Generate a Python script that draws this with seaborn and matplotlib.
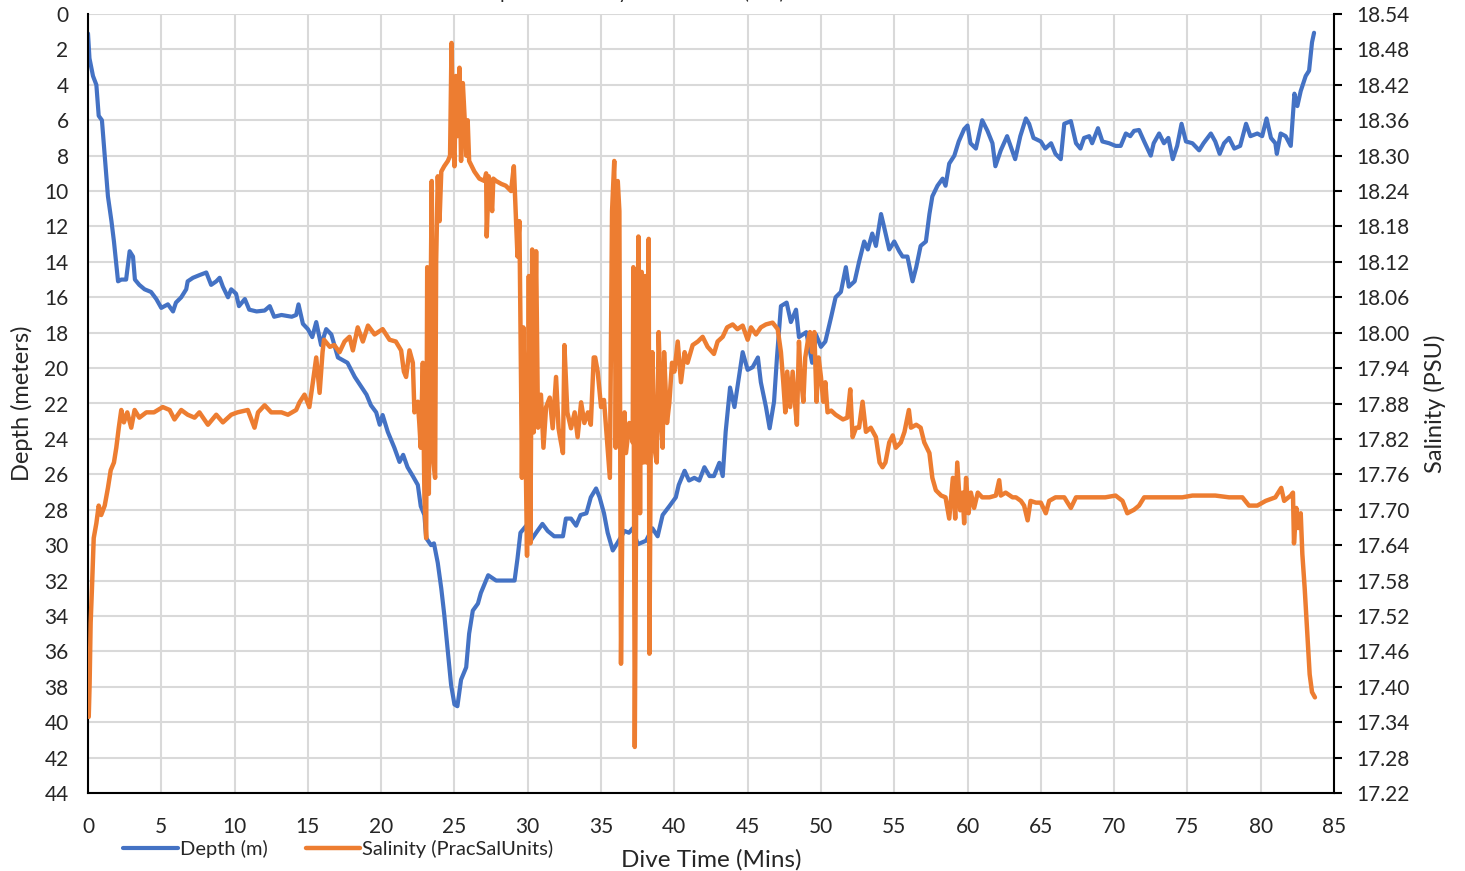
import matplotlib
matplotlib.use("Agg")
import matplotlib.pyplot as plt
import pandas as pd
import seaborn as sns

# depth trace (minutes, metres)
depth_time = [0.0, 0.1, 0.34, 0.57, 0.73, 0.95, 1.14, 1.36, 1.6, 1.77, 2.05, 2.27, 2.6, 2.84, 3.07, 3.2,
              3.5, 3.86, 4.3, 4.66, 5.0, 5.45, 5.8, 6.0, 6.36, 6.7, 6.8, 7.16, 7.6, 8.07, 8.4, 8.75, 8.98,
              9.2, 9.55, 9.77, 10.1, 10.3, 10.7, 11.0, 11.5, 12.05, 12.4, 12.7, 13.2, 13.9, 14.2, 14.36,
              14.66, 15.0, 15.3, 15.57, 15.9, 16.25, 16.6, 17.05, 17.7, 18.2, 18.6, 19.0, 19.3, 19.66,
              19.9, 20.1, 20.45, 20.9, 21.25, 21.5, 21.8, 22.16, 22.5, 22.7, 22.95, 23.07, 23.4, 23.6,
              23.86, 24.1, 24.3, 24.5, 24.77, 25.0, 25.2, 25.45, 25.8, 26.0, 26.25, 26.6, 26.8, 27.05,
              27.3, 27.84, 28.5, 29.1, 29.3, 29.5, 29.9, 30.2, 30.57, 31.0, 31.36, 31.8, 32.4, 32.6,
              32.95, 33.3, 33.6, 34.0, 34.3, 34.66, 34.9, 35.2, 35.45, 35.8, 36.1, 36.6, 36.9, 37.16,
              37.5, 38.07, 38.5, 38.86, 39.2, 39.66, 40.1, 40.3, 40.7, 41.0, 41.36, 41.7, 42.05, 42.4,
              42.7, 43.07, 43.3, 43.5, 43.8, 44.1, 44.3, 44.66, 45.0, 45.34, 45.7, 45.9, 46.25, 46.5,
              46.8, 47.0, 47.27, 47.66, 47.95, 48.3, 48.5, 49.0, 49.4, 49.66, 50.0, 50.3, 50.7, 51.0,
              51.36, 51.7, 51.9, 52.3, 52.6, 52.95, 53.2, 53.5, 53.75, 54.1, 54.3, 54.66, 55.0, 55.34,
              55.57, 55.9, 56.25, 56.5, 56.8, 57.16, 57.4, 57.6, 57.95, 58.3, 58.5, 58.75, 59.1, 59.4,
              59.77, 60.0, 60.2, 60.57, 61.0, 61.36, 61.7, 61.9, 62.27, 62.7, 63.25, 63.6, 63.98, 64.2,
              64.5, 65.0, 65.3, 65.7, 66.0, 66.36, 66.6, 67.05, 67.4, 67.7, 67.95, 68.3, 68.5, 68.9,
              69.2, 69.66, 70.1, 70.45, 70.8, 71.1, 71.36, 71.7, 72.05, 72.5, 72.7, 73.07, 73.4, 73.7,
              74.0, 74.3, 74.6, 74.9, 75.34, 75.8, 76.1, 76.6, 76.9, 77.2, 77.5, 77.84, 78.2, 78.6,
              79.0, 79.3, 79.77, 80.1, 80.4, 80.7, 81.0, 81.1, 81.36, 81.7, 82.05, 82.3, 82.5, 82.73,
              83.07, 83.3, 83.5, 83.64]
depth_m = [1.1, 2.5, 3.5, 4.0, 5.75, 6.0, 8.0, 10.3, 11.7, 12.85, 15.1, 15.0, 15.0, 13.4, 13.7, 15.0,
           15.3, 15.55, 15.7, 16.1, 16.6, 16.4, 16.8, 16.3, 16.0, 15.55, 15.1, 14.9, 14.75, 14.6, 15.3,
           15.1, 14.9, 15.4, 16.0, 15.55, 15.8, 16.5, 16.1, 16.7, 16.8, 16.75, 16.5, 17.1, 17.0, 17.1,
           17.0, 16.4, 17.5, 17.8, 18.25, 17.4, 18.7, 17.8, 18.1, 19.4, 19.7, 20.5, 21.0, 21.5, 22.1,
           22.5, 23.2, 22.65, 23.6, 24.5, 25.3, 24.9, 25.6, 26.1, 26.6, 27.8, 28.3, 29.6, 30.0, 29.9,
           31.0, 32.45, 33.9, 35.6, 37.9, 39.0, 39.1, 37.6, 36.9, 35.0, 33.7, 33.3, 32.7, 32.2, 31.7,
           32.0, 32.0, 32.0, 30.75, 29.3, 28.9, 29.75, 29.3, 28.8, 29.2, 29.5, 29.5, 28.5, 28.5, 28.9,
           28.3, 28.2, 27.3, 26.8, 27.3, 28.2, 29.3, 30.3, 29.9, 29.2, 29.3, 29.05, 29.95, 29.75, 29.05,
           29.5, 28.3, 27.8, 27.3, 26.6, 25.8, 26.35, 26.2, 26.35, 25.6, 26.1, 26.1, 25.35, 26.1, 23.6,
           21.1, 22.2, 21.1, 19.1, 20.1, 19.95, 19.4, 20.8, 22.2, 23.4, 21.9, 19.4, 16.5, 16.3, 17.4,
           16.7, 18.25, 17.97, 19.7, 18.1, 18.8, 18.5, 17.1, 16.0, 15.7, 14.3, 15.4, 15.1, 14.0, 12.85,
           13.3, 12.4, 13.1, 11.3, 12.0, 13.3, 12.85, 13.4, 13.7, 13.7, 15.1, 14.3, 13.1, 12.85, 11.3,
           10.3, 9.7, 9.3, 9.7, 8.45, 8.0, 7.2, 6.5, 6.3, 7.3, 7.6, 6.0, 6.6, 7.3, 8.6, 7.7, 6.9, 8.2,
           6.9, 5.9, 6.2, 7.0, 7.2, 7.6, 7.3, 7.9, 8.2, 6.2, 6.05, 7.3, 7.6, 7.0, 6.9, 7.3, 6.45, 7.2,
           7.3, 7.45, 7.45, 6.75, 6.9, 6.6, 6.55, 7.2, 8.0, 7.3, 6.75, 7.3, 7.0, 8.2, 7.45, 6.2, 7.2,
           7.3, 7.7, 7.3, 6.75, 7.2, 7.9, 7.3, 7.0, 7.6, 7.45, 6.2, 6.9, 6.75, 6.9, 5.9, 7.0, 7.3, 7.9,
           6.75, 6.9, 7.45, 4.5, 5.2, 4.35, 3.5, 3.2, 1.6, 1.06]

# salinity trace (minutes, PSU)
sal_time = [0.05, 0.11, 0.18, 0.27, 0.39, 0.57, 0.73, 0.9, 1.14, 1.36, 1.55, 1.77, 1.93, 2.1, 2.27, 2.45,
            2.68, 2.95, 3.18, 3.5, 3.98, 4.5, 5.1, 5.57, 5.9, 6.36, 6.8, 7.27, 7.6, 8.18, 8.75, 9.2, 9.77,
            10.2, 10.9, 11.36, 11.6, 12.05, 12.5, 13.2, 13.64, 14.2, 14.43, 14.77, 15.1, 15.34, 15.57,
            15.8, 16.0, 16.1, 16.5, 16.8, 17.16, 17.5, 17.84, 18.07, 18.4, 18.75, 19.1, 19.55, 20.1,
            20.57, 21.0, 21.36, 21.55, 21.7, 21.93, 22.16, 22.27, 22.5, 22.6, 22.7, 22.84, 22.95, 23.07,
            23.14, 23.25, 23.34, 23.45, 23.57, 23.68, 23.75, 23.86, 23.98, 24.1, 24.3, 24.55, 24.7,
            24.8, 24.9, 25.0, 25.1, 25.2, 25.34, 25.45, 25.57, 25.7, 25.8, 25.9, 26.0, 26.36, 26.7,
            27.05, 27.16, 27.2, 27.34, 27.57, 27.65, 27.84, 28.2, 28.5, 28.86, 29.05, 29.16, 29.3,
            29.43, 29.55, 29.6, 29.7, 29.84, 29.95, 30.07, 30.18, 30.3, 30.4, 30.57, 30.7, 30.9, 31.07,
            31.25, 31.5, 31.7, 31.93, 32.1, 32.2, 32.4, 32.5, 32.7, 32.95, 33.2, 33.4, 33.64, 33.86,
            34.1, 34.3, 34.5, 34.6, 34.77, 35.0, 35.2, 35.45, 35.6, 35.75, 35.9, 36.0, 36.14, 36.25,
            36.36, 36.5, 36.6, 36.7, 36.93, 37.16, 37.2, 37.3, 37.43, 37.55, 37.66, 37.77, 37.9, 38.0,
            38.1, 38.25, 38.3, 38.4, 38.5, 38.64, 38.8, 38.93, 39.1, 39.2, 39.3, 39.5, 39.66, 39.84,
            40.0, 40.23, 40.45, 40.7, 40.9, 41.25, 41.6, 41.93, 42.27, 42.7, 42.95, 43.3, 43.6, 43.98,
            44.3, 44.66, 45.0, 45.23, 45.57, 45.9, 46.25, 46.7, 47.05, 47.27, 47.43, 47.57, 47.7, 47.9,
            48.07, 48.25, 48.36, 48.5, 48.6, 48.8, 48.93, 49.1, 49.25, 49.4, 49.55, 49.7, 49.84, 50.0,
            50.16, 50.3, 50.45, 50.7, 51.0, 51.5, 51.8, 52.0, 52.16, 52.4, 52.6, 52.84, 53.07, 53.4,
            53.75, 54.0, 54.2, 54.4, 54.66, 54.9, 55.1, 55.45, 55.7, 56.0, 56.14, 56.5, 56.8, 57.05,
            57.4, 57.6, 57.84, 58.2, 58.5, 58.75, 59.0, 59.16, 59.3, 59.5, 59.66, 59.77, 59.9, 60.07,
            60.23, 60.45, 60.7, 61.0, 61.5, 61.93, 62.16, 62.27, 62.6, 63.07, 63.3, 63.64, 63.86, 64.1,
            64.3, 64.66, 65.0, 65.34, 65.57, 66.0, 66.6, 67.05, 67.4, 68.07, 68.75, 69.4, 70.1, 70.57,
            70.9, 71.36, 71.7, 72.05, 72.6, 73.3, 73.98, 74.66, 75.34, 76.0, 76.9, 77.84, 78.75, 79.2,
            79.77, 80.34, 81.0, 81.4, 81.6, 82.05, 82.2, 82.27, 82.43, 82.57, 82.73, 82.84, 83.0, 83.2,
            83.34, 83.5, 83.7]
sal_psu = [17.349, 17.405, 17.508, 17.567, 17.652, 17.677, 17.707, 17.691, 17.707, 17.737, 17.767,
           17.780, 17.805, 17.839, 17.869, 17.848, 17.865, 17.839, 17.869, 17.856, 17.865, 17.865,
           17.874, 17.869, 17.853, 17.869, 17.861, 17.856, 17.865, 17.844, 17.861, 17.848, 17.861,
           17.865, 17.869, 17.839, 17.865, 17.877, 17.865, 17.865, 17.861, 17.869, 17.882, 17.895,
           17.874, 17.916, 17.958, 17.898, 17.967, 17.988, 17.976, 17.979, 17.967, 17.985, 17.993,
           17.970, 18.009, 17.985, 18.012, 17.997, 18.006, 17.988, 17.985, 17.970, 17.934, 17.925,
           17.970, 17.949, 17.865, 17.883, 17.847, 17.805, 17.949, 17.721, 17.652, 18.111, 17.727,
           17.967, 18.257, 17.780, 17.754, 18.120, 18.265, 18.189, 18.273, 18.282, 18.291, 18.300,
           18.491, 18.333, 18.282, 18.435, 18.333, 18.449, 18.291, 18.423, 18.360, 18.300, 18.360,
           18.291, 18.273, 18.261, 18.257, 18.270, 18.163, 18.265, 18.206, 18.261, 18.257, 18.252,
           18.249, 18.240, 18.282, 18.214, 18.129, 18.189, 17.898, 17.754, 18.009, 17.823, 17.622,
           18.096, 17.643, 18.141, 17.831, 18.138, 17.839, 17.895, 17.805, 17.874, 17.890, 17.838,
           17.925, 17.838, 17.823, 17.796, 17.979, 17.865, 17.838, 17.865, 17.823, 17.882, 17.847,
           17.865, 17.844, 17.958, 17.958, 17.934, 17.874, 17.886, 17.805, 17.754, 18.206, 18.291,
           17.805, 18.257, 18.206, 17.439, 17.814, 17.865, 17.796, 17.847, 17.814, 18.111, 17.298,
           17.865, 18.163, 17.694, 18.103, 17.780, 18.096, 17.780, 18.159, 17.456, 17.847, 17.967,
           17.805, 17.780, 18.001, 17.847, 17.805, 17.967, 17.847, 17.882, 17.949, 17.934, 17.985,
           17.916, 17.967, 17.949, 17.979, 17.985, 17.993, 17.976, 17.964, 17.985, 17.993, 18.009,
           18.014, 18.006, 18.012, 17.988, 18.009, 17.997, 18.009, 18.014, 18.017, 18.006, 17.967,
           17.916, 17.865, 17.934, 17.874, 17.934, 17.874, 17.844, 17.985, 17.934, 17.883, 17.958,
           17.985, 18.001, 17.967, 18.001, 17.883, 17.958, 17.925, 17.883, 17.916, 17.865, 17.868,
           17.861, 17.853, 17.856, 17.904, 17.823, 17.839, 17.839, 17.883, 17.832, 17.839, 17.823,
           17.780, 17.772, 17.780, 17.814, 17.826, 17.805, 17.814, 17.832, 17.869, 17.839, 17.844,
           17.839, 17.814, 17.796, 17.754, 17.733, 17.724, 17.721, 17.685, 17.754, 17.685, 17.780,
           17.699, 17.729, 17.677, 17.754, 17.694, 17.729, 17.703, 17.729, 17.721, 17.721, 17.724,
           17.750, 17.724, 17.729, 17.721, 17.721, 17.715, 17.707, 17.682, 17.715, 17.712, 17.712,
           17.694, 17.715, 17.721, 17.721, 17.703, 17.721, 17.721, 17.721, 17.721, 17.724, 17.715,
           17.694, 17.700, 17.707, 17.721, 17.721, 17.721, 17.721, 17.721, 17.724, 17.724, 17.724,
           17.721, 17.721, 17.707, 17.707, 17.715, 17.721, 17.737, 17.715, 17.724, 17.729, 17.643,
           17.703, 17.669, 17.694, 17.625, 17.567, 17.481, 17.421, 17.391, 17.382]

x_ticks = list(range(0, 90, 5))
depth_ticks = list(range(0, 46, 2))
sal_ticks = [round(17.22 + 0.06 * i, 2) for i in range(23)]

blue = "#4472C4"
orange = "#ED7D31"

sns.set_theme(style="white")
plt.rcParams["font.family"] = ["Lato", "DejaVu Sans"]

df_depth = pd.DataFrame({"time": depth_time, "depth": depth_m})
df_sal = pd.DataFrame({"time": sal_time, "sal": sal_psu})

fig, ax = plt.subplots(figsize=(14.65, 8.71), dpi=100)
fig.subplots_adjust(left=88 / 1465, right=1334 / 1465, top=1 - 14 / 871, bottom=1 - 793 / 871)
ax2 = ax.twinx()

sns.lineplot(data=df_depth, x="time", y="depth", ax=ax, color=blue, lw=3.0,
             sort=False, estimator=None, label="Depth (m)", legend=False)
sns.lineplot(data=df_sal, x="time", y="sal", ax=ax2, color=orange, lw=3.2,
             sort=False, estimator=None, label="Salinity (PracSalUnits)", legend=False)

ax.set_xlim(0, 85)
ax.set_ylim(44, 0)
ax2.set_ylim(17.22, 18.54)
ax.set_xticks(x_ticks)
ax.set_yticks(depth_ticks)
ax2.set_yticks(sal_ticks)
ax2.set_yticklabels([f"{v:.2f}" for v in sal_ticks])

ax.grid(True, color="#D9D9D9", lw=1.5)
ax2.grid(False)
for a in (ax, ax2):
    for s in a.spines.values():
        s.set_visible(False)
ax.spines["left"].set_visible(True)
ax.spines["bottom"].set_visible(True)
ax2.spines["right"].set_visible(True)
for s in (ax.spines["left"], ax.spines["bottom"], ax2.spines["right"]):
    s.set_color("black")
    s.set_linewidth(1.5)

ax.tick_params(axis="x", labelsize=15, pad=17, length=0)
ax.tick_params(axis="y", labelsize=15, pad=14, length=0)
ax2.tick_params(axis="y", labelsize=15, pad=10, length=6, width=1.5, color="black", right=True)

ax.set_xlabel("Dive Time (Mins)", fontsize=17.5, labelpad=9)
ax.set_ylabel("Depth (meters)", fontsize=17, labelpad=8)
ax2.set_ylabel("Salinity (PSU)", fontsize=17, labelpad=10)

# title sits mostly above the canvas, as in the source chart
fig.text(0.43, 1 + 1.5 / 871, "Depth and Salinity vs Dive Time (min)", fontsize=13.5,
         ha="center", va="baseline")

handles = ax.get_lines()[:1] + ax2.get_lines()[:1]
fig.legend(handles, [h.get_label() for h in handles], loc="center left",
           bbox_to_anchor=(105 / 1465, 1 - 849 / 871), ncol=2, frameon=False,
           fontsize=14.5, handlelength=2.7, handletextpad=0.1, columnspacing=1.9)

fig.savefig("out.png", dpi=100)
